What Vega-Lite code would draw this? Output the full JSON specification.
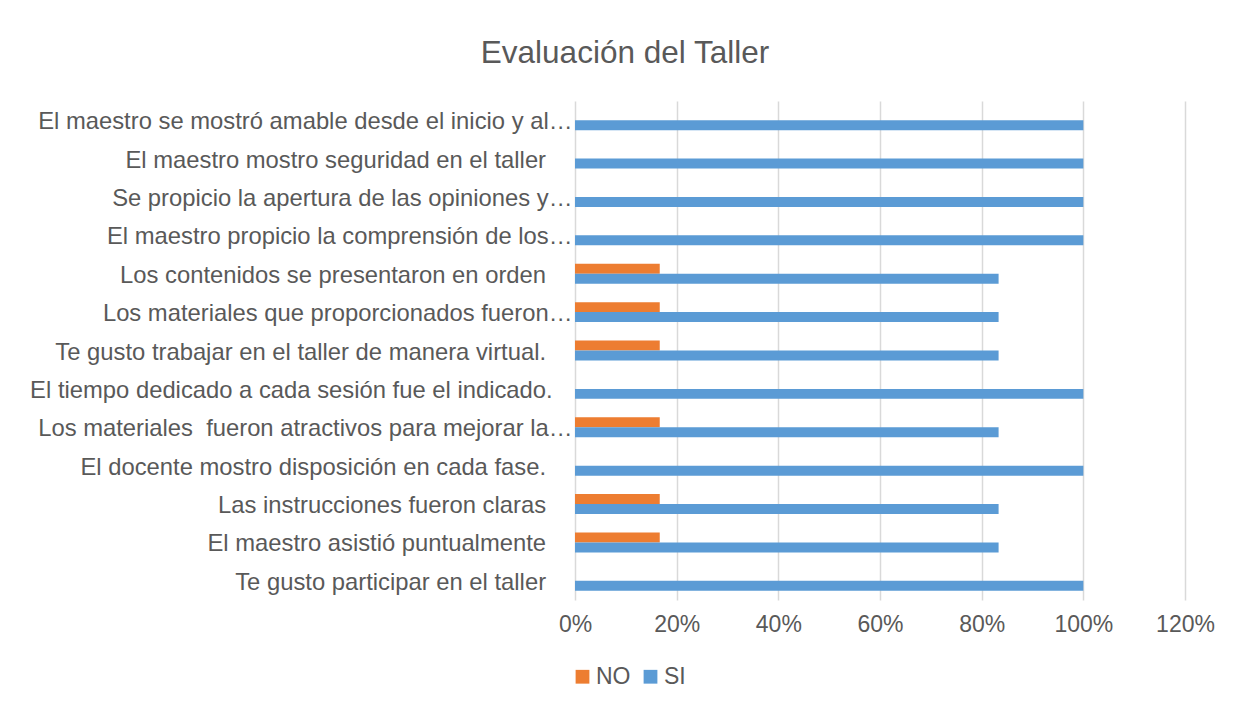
{
  "$schema": "https://vega.github.io/schema/vega-lite/v6.json",
  "autosize": {"type": "none"},
  "width": 610,
  "height": 499,
  "padding": {"left": 575, "top": 101, "right": 50, "bottom": 105},
  "background": "#ffffff",
  "title": {
    "text": "Evaluación del Taller",
    "font": "Liberation Sans",
    "fontSize": 31.5,
    "fontWeight": "normal",
    "color": "#595959",
    "anchor": "middle",
    "baseline": "alphabetic",
    "offset": 7,
    "dx": -255
  },
  "data": {
    "values": [
      {"pregunta": "El maestro se mostró amable desde el inicio y al…", "serie": "NO", "valor": 0},
      {"pregunta": "El maestro se mostró amable desde el inicio y al…", "serie": "SI", "valor": 1},
      {"pregunta": "El maestro mostro seguridad en el taller\u00a0\u00a0\u00a0\u00a0\u200b", "serie": "NO", "valor": 0},
      {"pregunta": "El maestro mostro seguridad en el taller\u00a0\u00a0\u00a0\u00a0\u200b", "serie": "SI", "valor": 1},
      {"pregunta": "Se propicio la apertura de las opiniones y…", "serie": "NO", "valor": 0},
      {"pregunta": "Se propicio la apertura de las opiniones y…", "serie": "SI", "valor": 1},
      {"pregunta": "El maestro propicio la comprensión de los…", "serie": "NO", "valor": 0},
      {"pregunta": "El maestro propicio la comprensión de los…", "serie": "SI", "valor": 1},
      {"pregunta": "Los contenidos se presentaron en orden\u00a0\u00a0\u00a0\u00a0\u200b", "serie": "NO", "valor": 0.1667},
      {"pregunta": "Los contenidos se presentaron en orden\u00a0\u00a0\u00a0\u00a0\u200b", "serie": "SI", "valor": 0.8333},
      {"pregunta": "Los materiales que proporcionados fueron…", "serie": "NO", "valor": 0.1667},
      {"pregunta": "Los materiales que proporcionados fueron…", "serie": "SI", "valor": 0.8333},
      {"pregunta": "Te gusto trabajar en el taller de manera virtual.\u00a0\u00a0\u00a0\u00a0\u200b", "serie": "NO", "valor": 0.1667},
      {"pregunta": "Te gusto trabajar en el taller de manera virtual.\u00a0\u00a0\u00a0\u00a0\u200b", "serie": "SI", "valor": 0.8333},
      {"pregunta": "El tiempo dedicado a cada sesión fue el indicado.\u00a0\u00a0\u00a0\u200b", "serie": "NO", "valor": 0},
      {"pregunta": "El tiempo dedicado a cada sesión fue el indicado.\u00a0\u00a0\u00a0\u200b", "serie": "SI", "valor": 1},
      {"pregunta": "Los materiales\u00a0 fueron atractivos para mejorar la…", "serie": "NO", "valor": 0.1667},
      {"pregunta": "Los materiales\u00a0 fueron atractivos para mejorar la…", "serie": "SI", "valor": 0.8333},
      {"pregunta": "El docente mostro disposición en cada fase.\u00a0\u00a0\u00a0\u00a0\u200b", "serie": "NO", "valor": 0},
      {"pregunta": "El docente mostro disposición en cada fase.\u00a0\u00a0\u00a0\u00a0\u200b", "serie": "SI", "valor": 1},
      {"pregunta": "Las instrucciones fueron claras\u00a0\u00a0\u00a0\u00a0\u200b", "serie": "NO", "valor": 0.1667},
      {"pregunta": "Las instrucciones fueron claras\u00a0\u00a0\u00a0\u00a0\u200b", "serie": "SI", "valor": 0.8333},
      {"pregunta": "El maestro asistió puntualmente\u00a0\u00a0\u00a0\u00a0\u200b", "serie": "NO", "valor": 0.1667},
      {"pregunta": "El maestro asistió puntualmente\u00a0\u00a0\u00a0\u00a0\u200b", "serie": "SI", "valor": 0.8333},
      {"pregunta": "Te gusto participar en el taller\u00a0\u00a0\u00a0\u00a0\u200b", "serie": "NO", "valor": 0},
      {"pregunta": "Te gusto participar en el taller\u00a0\u00a0\u00a0\u00a0\u200b", "serie": "SI", "valor": 1}
    ]
  },
  "mark": {"type": "bar"},
  "encoding": {
    "y": {
      "field": "pregunta",
      "type": "nominal",
      "sort": null,
      "scale": {"paddingInner": 0.48, "paddingOuter": 0.24},
      "axis": {
        "title": null,
        "domain": false,
        "ticks": false,
        "grid": false,
        "labelFont": "Liberation Sans",
        "labelFontSize": 23.8,
        "labelColor": "#595959",
        "labelPadding": 3,
        "labelOffset": 2,
        "labelLimit": 600
      }
    },
    "yOffset": {
      "field": "serie",
      "type": "nominal",
      "sort": ["NO", "SI"],
      "scale": {"paddingInner": 0, "paddingOuter": 0}
    },
    "x": {
      "field": "valor",
      "type": "quantitative",
      "scale": {"domain": [0, 1.2], "nice": false},
      "axis": {
        "title": null,
        "format": ".0%",
        "values": [0, 0.2, 0.4, 0.6, 0.8, 1.0, 1.2],
        "domain": false,
        "ticks": false,
        "grid": true,
        "gridColor": "#d9d9d9",
        "gridWidth": 1.5,
        "labelFont": "Liberation Sans",
        "labelFontSize": 23,
        "labelColor": "#595959",
        "labelPadding": 13,
        "labelFlush": false
      }
    },
    "color": {
      "field": "serie",
      "type": "nominal",
      "scale": {"domain": ["NO", "SI"], "range": ["#ED7D31", "#5B9BD5"]},
      "legend": {
        "title": null,
        "orient": "none",
        "legendX": -4,
        "legendY": 564,
        "direction": "horizontal",
        "symbolType": "square",
        "symbolSize": 190,
        "symbolStrokeWidth": 0,
        "labelFont": "Liberation Sans",
        "labelFontSize": 23,
        "labelColor": "#595959",
        "labelOffset": 2,
        "columnPadding": 8
      }
    }
  },
  "config": {
    "view": {"stroke": null}
  }
}
